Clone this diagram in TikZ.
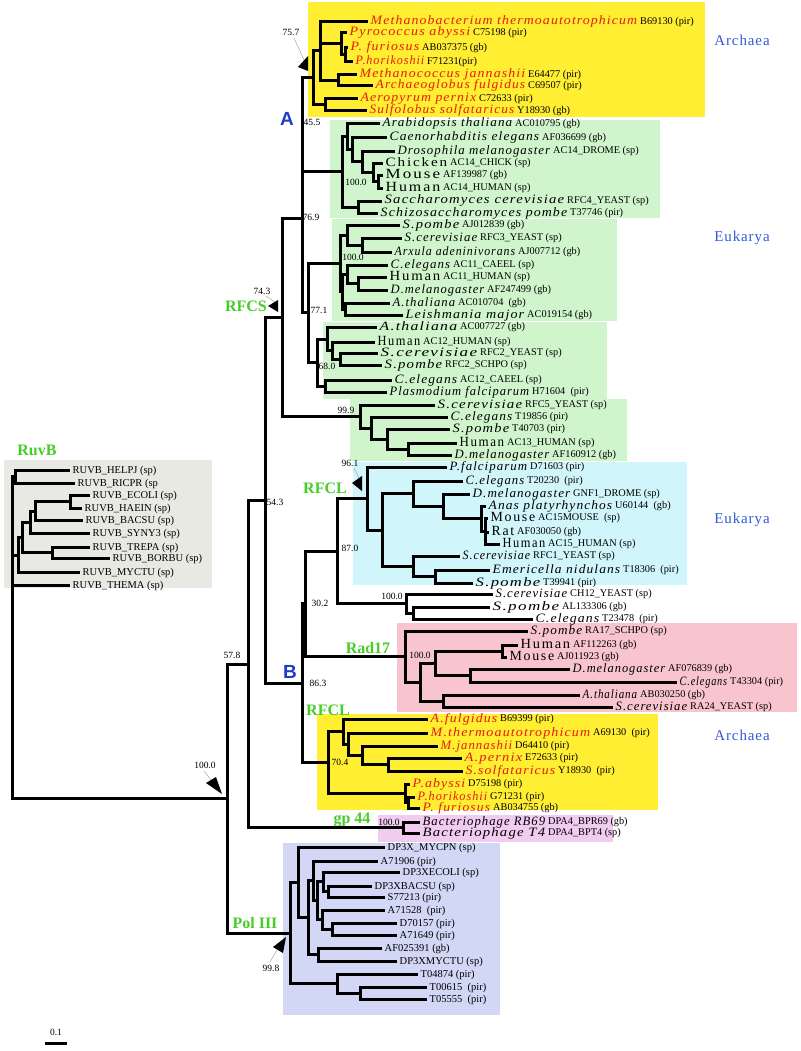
\documentclass[tikz,border=0pt]{standalone}
\usepackage{graphicx}
\usepackage{fontspec}
\setmainfont{Liberation Serif}
\newfontfamily\spf[LetterSpace=8]{Liberation Serif}
\newfontfamily\upf[LetterSpace=12]{Liberation Serif}
\newfontfamily\accf{Liberation Serif}
\newfontfamily\sansf{Liberation Sans}
\newfontfamily\regf[LetterSpace=6]{Liberation Serif}
\definecolor{archred}{RGB}{232,28,12}
\definecolor{grn}{RGB}{70,205,40}
\definecolor{blu}{RGB}{30,60,200}
\definecolor{blu2}{RGB}{50,90,215}
\definecolor{yel}{RGB}{255,238,50}
\definecolor{lgreen}{RGB}{208,245,204}
\definecolor{lcyan}{RGB}{208,245,250}
\definecolor{lpink}{RGB}{248,196,206}
\definecolor{lmag}{RGB}{242,204,240}
\definecolor{lblue}{RGB}{210,215,246}
\definecolor{lgray}{RGB}{233,233,228}
\newcommand\mySp[1]{{\spf\itshape\fontsize{12.8}{14}\selectfont #1}}
\newcommand\myRed[1]{\textcolor{archred}{\mySp{#1}}}
\newcommand\myUp[1]{{\upf\fontsize{14}{15}\selectfont #1}}
\newcommand\myUpS[1]{{\upf\fontsize{12.8}{14}\selectfont #1}}
\newcommand\myLab[1]{{\accf\fontsize{10.5}{11}\selectfont #1}}
\newlength\natw
\newcommand\fitw[2]{\settowidth{\natw}{#2}\pgfmathsetmacro\myrat{(#1)/\natw}\scalebox{\myrat}[1]{#2}}
% id, tip x, y, name, accession x, accession
\newcommand\leaf[6]{\coordinate (#1) at (#2,#3);
 \node[leaflab] (#1t) at (#1) {\fitw{#5-#2-5.5}{#4}};
 \node[acclab] (#1a) at (#5,#3) {#6};}
\newcommand\leafb[4]{\coordinate (#1) at (#2,#3); \node[leaflab] (#1t) at (#1) {\myLab{#4}};}
\newcommand\edges[2]{\foreach \c in {#2} {\draw[br] (#1) |- (\c);}}
\tikzset{
 br/.style={line width=3pt, line join=miter},
 leaflab/.style={anchor=west, inner sep=0pt, xshift=2.5pt, text height=7pt, text depth=1pt},
 acclab/.style={anchor=west, inner sep=0pt, text height=6pt, text depth=0pt, yshift=0.5pt, font=\accf\fontsize{10.3}{11}\selectfont},
 boot/.style={inner sep=0pt, font=\accf\fontsize{9.5}{10}\selectfont},
 glab/.style={inner sep=0pt, text=grn, font=\bfseries\fontsize{16}{17}\selectfont},
 blab/.style={inner sep=0pt, text=blu, font=\sansf\bfseries\fontsize{19}{20}\selectfont},
 dlab/.style={inner sep=0pt, text=blu2, font=\regf\fontsize{15}{16}\selectfont},
 ptr/.style={draw=gray!70, line width=0.5pt},
 tri/.style={fill=black},
}
\begin{document}
\begin{tikzpicture}[x=1pt,y=-1pt]
\useasboundingbox (0,0) rectangle (800,1051);
% ---------- coloured boxes ----------
\fill[yel] (308,2) rectangle (705,117);
\fill[lgreen] (330,120) rectangle (660,218);
\fill[lgreen] (332,219) rectangle (617,321);
\fill[lgreen] (323,322) rectangle (607,399);
\fill[lgreen] (350,399) rectangle (627,461);
\fill[lcyan] (353,462) rectangle (687,585);
\fill[lpink] (397,623) rectangle (797,712);
\fill[yel] (317,714) rectangle (658,810);
\fill[lmag] (378,815) rectangle (613,842);
\fill[lblue] (283,843) rectangle (500,1015);
\fill[lgray] (4,460) rectangle (212,588);

% ---------- top archaea ----------
\leaf{Lmb}{368}{22}{\myRed{Methanobacterium thermoautotrophicum}}{640}{B69130 (pir)}
\leaf{Lpa}{347}{33}{\myRed{Pyrococcus abyssi}}{473}{C75198 (pir)}
\leaf{Lpf}{348}{48}{\myRed{P. furiosus}}{422}{AB037375 (gb)}
\leaf{Lph}{353}{62}{\myRed{P.horikoshii}}{427}{F71231(pir)}
\leaf{Lmj}{357}{75}{\myRed{Methanococcus jannashii}}{528}{E64477 (pir)}
\leaf{Laf}{373}{86}{\myRed{Archaeoglobus fulgidus}}{528}{C69507 (pir)}
\leaf{Lap}{358}{99}{\myRed{Aeropyrum pernix}}{479}{C72633 (pir)}
\leaf{Lss}{367}{111}{\myRed{Sulfolobus solfataricus}}{517}{Y18930 (gb)}
\coordinate (npf) at (345,55);
\coordinate (npyro) at (341,44);
\coordinate (nmjaf) at (338,80.5);
\coordinate (nA1) at (320,51);
\coordinate (napss) at (325,105);
\coordinate (narch) at (313,78);
\edges{npf}{Lpf,Lph}
\edges{npyro}{Lpa,npf}
\edges{nmjaf}{Lmj,Laf}
\edges{nA1}{Lmb,npyro,nmjaf}
\edges{napss}{Lap,Lss}
\edges{narch}{nA1,napss}

% ---------- eukarya group 1 ----------
\leaf{Lat1}{380}{124}{\mySp{Arabidopsis thaliana}}{515}{AC010795 (gb)}
\leaf{Lce1}{387}{138}{\mySp{Caenorhabditis elegans}}{542}{AF036699 (gb)}
\leaf{Ldm1}{395}{151.5}{\mySp{Drosophila melanogaster}}{553}{AC14\_DROME (sp)}
\leaf{Lch}{383}{163.5}{\myUpS{Chicken}}{450}{AC14\_CHICK (sp)}
\leaf{Lmo1}{383}{175.5}{\myUp{Mouse}}{443}{AF139987 (gb)}
\leaf{Lhu1}{383}{188}{\myUp{Human}}{443}{AC14\_HUMAN (sp)}
\leaf{Lsc1}{382}{201}{\mySp{Saccharomyces cerevisiae}}{567}{RFC4\_YEAST (sp)}
\leaf{Lsp1}{378}{213}{\mySp{Schizosaccharomyces pombe}}{570}{T37746 (pir)}
\coordinate (nmh1) at (378,181.75);
\coordinate (nchmh) at (373,172.5);
\coordinate (ndro) at (362,162);
\coordinate (nce) at (352,150);
\coordinate (nat1) at (347,137);
\coordinate (nsc1) at (358,207);
\coordinate (ng1) at (342,172);
\edges{nmh1}{Lmo1,Lhu1}
\edges{nchmh}{Lch,nmh1}
\edges{ndro}{Ldm1,nchmh}
\edges{nce}{Lce1,ndro}
\edges{nat1}{Lat1,nce}
\edges{nsc1}{Lsc1,Lsp1}
\edges{ng1}{nat1,nsc1}
\node[boot] (b1000a) at (356,182) {100.0};

% ---------- eukarya group 2 ----------
\leaf{Lsp2}{400}{225}{\mySp{S.pombe}}{462}{AJ012839 (gb)}
\leaf{Lsc2}{402}{238}{\mySp{S.cerevisiae}}{480}{RFC3\_YEAST (sp)}
\leaf{Lax}{392}{252}{\mySp{Arxula adeninivorans}}{518}{AJ007712 (gb)}
\leaf{Lce2}{388}{265}{\mySp{C.elegans}}{453}{AC11\_CAEEL (sp)}
\leaf{Lhu2}{387}{277}{\myUp{Human}}{443}{AC11\_HUMAN (sp)}
\leaf{Ldm2}{388}{290}{\mySp{D.melanogaster}}{487}{AF247499 (gb)}
\leaf{Lat2}{390}{303}{\mySp{A.thaliana}}{458}{AC010704 \ (gb)}
\leaf{Llm}{403}{315}{\mySp{Leishmania major}}{527}{AC019154 (gb)}
\coordinate (nscax) at (362,245);
\coordinate (nspsc) at (347,235);
\coordinate (nhd2) at (358,283.5);
\coordinate (nchd) at (347,274);
\coordinate (nal) at (345,309);
\coordinate (nx) at (342,291.5);
\coordinate (ng2) at (340,263);
\edges{nscax}{Lsc2,Lax}
\edges{nspsc}{Lsp2,nscax}
\edges{nhd2}{Lhu2,Ldm2}
\edges{nchd}{Lce2,nhd2}
\edges{nal}{Lat2,Llm}
\edges{nx}{nchd,nal}
\edges{ng2}{nspsc,nx}
\node[boot] (b1000b) at (353,257) {100.0};

% ---------- eukarya group 3 ----------
\leaf{Lat3}{377}{327}{\mySp{A.thaliana}}{460}{AC007727 (gb)}
\leaf{Lhu3}{375}{342}{\myUp{Human}}{423}{AC12\_HUMAN (sp)}
\leaf{Lsc3}{378}{353}{\mySp{S.cerevisiae}}{480}{RFC2\_YEAST (sp)}
\leaf{Lsp3}{382}{365}{\mySp{S.pombe}}{445}{RFC2\_SCHPO (sp)}
\leaf{Lce3}{392}{380}{\mySp{C.elegans}}{460}{AC12\_CAEEL (sp)}
\leaf{Lpf3}{387}{392}{\mySp{Plasmodium falciparum}}{532}{H71604 \ (pir)}
\coordinate (nscsp3) at (340,359);
\coordinate (nhss) at (332,350.5);
\coordinate (nah) at (327,339);
\coordinate (ncp) at (325,386);
\coordinate (ng3) at (317,362.5);
\edges{nscsp3}{Lsc3,Lsp3}
\edges{nhss}{Lhu3,nscsp3}
\edges{nah}{Lat3,nhss}
\edges{ncp}{Lce3,Lpf3}
\edges{ng3}{nah,ncp}
\node[boot] (b680) at (327,366) {68.0};
\coordinate (n77) at (308,312.5);
\edges{n77}{ng2,ng3}
\node[boot] (b771) at (319,310) {77.1};

% ---------- 99.9 group ----------
\leaf{Lsc5}{435}{405}{\mySp{S.cerevisiae}}{525}{RFC5\_YEAST (sp)}
\leaf{Lce5}{448}{417}{\mySp{C.elegans}}{515}{T19856 (pir)}
\leaf{Lsp5}{450}{429}{\mySp{S.pombe}}{512}{T40703 (pir)}
\leaf{Lhu5}{457}{443}{\myUp{Human}}{507}{AC13\_HUMAN (sp)}
\leaf{Ldm5}{452}{455}{\mySp{D.melanogaster}}{552}{AF160912 (gb)}
\coordinate (nhd5) at (408,449);
\coordinate (nsp5) at (387,439);
\coordinate (nce5) at (371,428);
\coordinate (n99) at (360,416.5);
\edges{nhd5}{Lhu5,Ldm5}
\edges{nsp5}{Lsp5,nhd5}
\edges{nce5}{Lce5,nsp5}
\edges{n99}{Lsc5,nce5}
\node[boot] (b999) at (346,410) {99.9};

% ---------- RFCS backbone ----------
\coordinate (n45) at (302,125);
\coordinate (n769) at (302,218.75);
\coordinate (nrfcs) at (282,317.6);
\edges{n45}{narch,ng1}
\edges{n769}{n45,n77}
\edges{nrfcs}{n769,n99}
\node[boot] (b757) at (291,32) {75.7};
\node[boot] (b455) at (312,122) {45.5};
\node[boot] (b769) at (311,217) {76.9};
\node[boot] (b743) at (262,291) {74.3};
\node[blab] (labA) at (287,119) {A};
\node[glab, anchor=east] (labRFCS) at (267,306) {RFCS};

% ---------- RFCL eukarya ----------
\leaf{Lpf2}{447}{467}{\mySp{P.falciparum}}{530}{D71603 (pir)}
\leaf{Lce6}{463}{481}{\mySp{C.elegans}}{527}{T20230 \ (pir)}
\leaf{Ldm6}{470}{494}{\mySp{D.melanogaster}}{573}{GNF1\_DROME (sp)}
\leaf{Lan}{486}{506}{\mySp{Anas platyrhynchos}}{615}{U60144 \ (gb)}
\leaf{Lmo6}{488}{518}{\myUp{Mouse}}{538}{AC15MOUSE \ (sp)}
\leaf{Lrat}{489}{532}{\myUp{Rat}}{517}{AF030050 (gb)}
\leaf{Lhu6}{500}{544}{\myUp{Human}}{548}{AC15\_HUMAN (sp)}
\leaf{Lsc6}{460}{556}{\mySp{S.cerevisiae}}{533}{RFC1\_YEAST (sp)}
\leaf{Len}{490}{570}{\mySp{Emericella nidulans}}{623}{T18306 \ (pir)}
\leaf{Lsp6}{473}{583}{\mySp{S.pombe}}{543}{T39941 (pir)}
\coordinate (nmrh) at (485,531);
\coordinate (namrh) at (481,518.5);
\coordinate (ndm6) at (443,506);
\coordinate (ntop6) at (413,493.5);
\coordinate (nesp) at (435,576.5);
\coordinate (nbot6) at (413,566);
\coordinate (nrest6) at (382,530);
\coordinate (n96) at (367,498.5);
\edges{nmrh}{Lmo6,Lrat,Lhu6}
\edges{namrh}{Lan,nmrh}
\edges{ndm6}{Ldm6,namrh}
\edges{ntop6}{Lce6,ndm6}
\edges{nesp}{Len,Lsp6}
\edges{nbot6}{Lsc6,nesp}
\edges{nrest6}{ntop6,nbot6}
\edges{n96}{Lpf2,nrest6}
\node[boot] (b961) at (350,463) {96.1};
\node[glab] (labRFCL1) at (325,488) {RFCL};

% ---------- CH12 ----------
\leaf{Lsc7}{493}{594}{\mySp{S.cerevisiae}}{570}{CH12\_YEAST (sp)}
\leaf{Lsp7}{490}{607}{\mySp{S.pombe}}{562}{AL133306 (gb)}
\leaf{Lce7}{533}{619}{\mySp{C.elegans}}{602}{T23478 \ (pir)}
\coordinate (nspce7) at (413,613);
\coordinate (nch12) at (406,603.5);
\edges{nspce7}{Lsp7,Lce7}
\edges{nch12}{Lsc7,nspce7}
\node[boot] (b1000c) at (392,596) {100.0};
\coordinate (n87) at (337,551);
\edges{n87}{n96,nch12}
\node[boot] (b870) at (350,548) {87.0};

% ---------- Rad17 ----------
\leaf{Lsp8}{528}{631}{\mySp{S.pombe}}{585}{RA17\_SCHPO (sp)}
\leaf{Lhu8}{518}{645}{\myUp{Human}}{573}{AF112263 (gb)}
\leaf{Lmo8}{507}{657}{\myUp{Mouse}}{557}{AJ011923 (gb)}
\leaf{Ldm8}{570}{669}{\mySp{D.melanogaster}}{668}{AF076839 (gb)}
\leaf{Lce8}{677}{682}{\mySp{C.elegans}}{730}{T43304 (pir)}
\leaf{Lat8}{580}{695}{\mySp{A.thaliana}}{640}{AB030250 (gb)}
\leaf{Lsc8}{613}{707}{\mySp{S.cerevisiae}}{690}{RA24\_YEAST (sp)}
\coordinate (nhm8) at (502,651);
\coordinate (ndc8) at (470,675.5);
\coordinate (nhmdc) at (435,663);
\coordinate (nats8) at (443,701);
\coordinate (nr2) at (420,682);
\coordinate (nrad) at (405,656.5);
\edges{nhm8}{Lhu8,Lmo8}
\edges{ndc8}{Ldm8,Lce8}
\edges{nhmdc}{nhm8,ndc8}
\edges{nats8}{Lat8,Lsc8}
\edges{nr2}{nhmdc,nats8}
\edges{nrad}{Lsp8,nr2}
\node[boot] (b1000d) at (420,655) {100.0};
\node[glab] (labRad) at (368,648) {Rad17};
\coordinate (n30) at (305,603.5);
\edges{n30}{n87,nrad}
\node[boot] (b302) at (320,603) {30.2};

% ---------- bottom archaea ----------
\leaf{Laf2}{428}{719}{\myRed{A.fulgidus}}{500}{B69399 (pir)}
\leaf{Lmt2}{428}{733}{\myRed{M.thermoautotrophicum}}{593}{A69130 \ (pir)}
\leaf{Lmj2}{438}{746}{\myRed{M.jannashii}}{515}{D64410 (pir)}
\leaf{Lap2}{462}{758}{\myRed{A.pernix}}{525}{E72633 (pir)}
\leaf{Lss2}{463}{771}{\myRed{S.solfataricus}}{558}{Y18930 \ (pir)}
\leaf{Lpa2}{410}{784}{\myRed{P.abyssi}}{468}{D75198 (pir)}
\leaf{Lph2}{415}{797}{\myRed{P.horikoshii}}{490}{G71231 (pir)}
\leaf{Lpu2}{420}{808}{\myRed{P. furiosus}}{493}{AB034755 (gb)}
\coordinate (nas2) at (388,764.5);
\coordinate (nmjas) at (362,755);
\coordinate (nmt2) at (348,744);
\coordinate (naf2) at (343,731.5);
\coordinate (nphf) at (408,802.5);
\coordinate (npyro2) at (405,793);
\coordinate (n70) at (328,762);
\edges{nas2}{Lap2,Lss2}
\edges{nmjas}{Lmj2,nas2}
\edges{nmt2}{Lmt2,nmjas}
\edges{naf2}{Laf2,nmt2}
\edges{nphf}{Lph2,Lpu2}
\edges{npyro2}{Lpa2,nphf}
\edges{n70}{naf2,npyro2}
\node[boot] (b704) at (340,762) {70.4};
\node[glab] (labRFCL2) at (328,710) {RFCL};
\coordinate (n86) at (302,683);
\edges{n86}{n30,n70}
\node[boot] (b863) at (318,683) {86.3};
\node[blab] (labB) at (290,672) {B};
\coordinate (n54) at (265,500);
\edges{n54}{nrfcs,n86}
\node[boot] (b543) at (275,502) {54.3};

% ---------- gp44 ----------
\leaf{Lrb}{420}{822}{\mySp{Bacteriophage RB69}}{548}{DPA4\_BPR69 (gb)}
\leaf{Lt4}{420}{833}{\mySp{Bacteriophage T4}}{548}{DPA4\_BPT4 (sp)}
\coordinate (ngp) at (403,827.5);
\edges{ngp}{Lrb,Lt4}
\node[boot] (b1000e) at (389,822) {100.0};
\node[glab] (labgp) at (352,820) {gp 44};
\coordinate (n57) at (248,664);
\edges{n57}{n54,ngp}
\node[boot] (b578) at (232,655) {57.8};

% ---------- Pol III ----------
\leafb{Lx1}{385}{847}{DP3X\_MYCPN (sp)}
\leafb{Lx2}{378}{861}{A71906 (pir)}
\leafb{Lx3}{400}{872}{DP3XECOLI (sp)}
\leafb{Lx4}{372}{886}{DP3XBACSU (sp)}
\leafb{Lx5}{385}{897}{S77213 (pir)}
\leafb{Lx6}{385}{910}{A71528 \ (pir)}
\leafb{Lx7}{397}{923}{D70157 (pir)}
\leafb{Lx8}{397}{935}{A71649 (pir)}
\leafb{Lx9}{382}{948}{AF025391 (gb)}
\leafb{Lx10}{397}{961}{DP3XMYCTU (sp)}
\leafb{Lx11}{418}{974}{T04874 (pir)}
\leafb{Lx12}{427}{987}{T00615 \ (pir)}
\leafb{Lx13}{427}{999}{T05555 \ (pir)}
\coordinate (nbs) at (328,891.5);
\coordinate (nebs) at (323,881.75);
\coordinate (ndmp) at (332,929);
\coordinate (nadm) at (322,919.5);
\coordinate (nxa) at (317,900.6);
\coordinate (nxb) at (313,880.8);
\coordinate (nmyc) at (318,954.5);
\coordinate (nxc) at (308,917.6);
\coordinate (nxd) at (298,882.3);
\coordinate (nt0) at (360,993);
\coordinate (nt) at (337,983.5);
\coordinate (npol) at (290,933);
\edges{nbs}{Lx4,Lx5}
\edges{nebs}{Lx3,nbs}
\edges{ndmp}{Lx7,Lx8}
\edges{nadm}{Lx6,ndmp}
\edges{nxa}{nebs,nadm}
\edges{nxb}{Lx2,nxa}
\edges{nmyc}{Lx9,Lx10}
\edges{nxc}{nxb,nmyc}
\edges{nxd}{Lx1,nxc}
\edges{nt0}{Lx12,Lx13}
\edges{nt}{Lx11,nt0}
\edges{npol}{nxd,nt}
\node[glab] (labPol) at (255,923) {Pol III};
\node[boot] (b998) at (271,968) {99.8};
\coordinate (n100) at (227,798.5);
\edges{n100}{n57,npol}
\node[boot] (b1000f) at (205,765) {100.0};

% ---------- RuvB ----------
\leafb{Lr1}{70}{470}{RUVB\_HELPJ (sp)}
\leafb{Lr2}{75}{483}{RUVB\_RICPR (sp}
\leafb{Lr3}{90}{495}{RUVB\_ECOLI (sp)}
\leafb{Lr4}{82}{508}{RUVB\_HAEIN (sp)}
\leafb{Lr5}{83}{520}{RUVB\_BACSU (sp)}
\leafb{Lr6}{90}{533}{RUVB\_SYNY3 (sp)}
\leafb{Lr7}{90}{547}{RUVB\_TREPA (sp)}
\leafb{Lr8}{110}{558}{RUVB\_BORBU (sp)}
\leafb{Lr9}{80}{572}{RUVB\_MYCTU (sp)}
\leafb{Lr10}{70}{585}{RUVB\_THEMA (sp)}
\coordinate (nhr) at (15,476.5);
\coordinate (neh) at (70,501.5);
\coordinate (nehb) at (35,511);
\coordinate (nehbs) at (30,522);
\coordinate (ntb) at (52,552.5);
\coordinate (ny) at (22,537);
\coordinate (nz) at (18,555);
\coordinate (nruv) at (12,531);
\coordinate (root) at (12,664);
\edges{nhr}{Lr1,Lr2}
\edges{neh}{Lr3,Lr4}
\edges{nehb}{neh,Lr5}
\edges{nehbs}{nehb,Lr6}
\edges{ntb}{Lr7,Lr8}
\edges{ny}{nehbs,ntb}
\edges{nz}{ny,Lr9}
\edges{nruv}{nhr,nz,Lr10}
\edges{root}{nruv,n100}
\node[glab] (labRuv) at (37,450) {RuvB};

% ---------- bootstrap pointers ----------
\coordinate (p1a) at (294,38); \coordinate (p1b) at (304,60);
\draw[ptr] (p1a) -- (p1b);
\coordinate (t1a) at (298,67); \coordinate (t1b) at (308,56); \coordinate (t1c) at (308,71);
\fill[tri] (t1a) -- (t1b) -- (t1c) -- cycle;
\coordinate (p2a) at (266,296); \coordinate (p2b) at (275,302);
\draw[ptr] (p2a) -- (p2b);
\coordinate (t2a) at (268,306); \coordinate (t2b) at (278,300); \coordinate (t2c) at (278,312);
\fill[tri] (t2a) -- (t2b) -- (t2c) -- cycle;
\coordinate (p3a) at (354,468); \coordinate (p3b) at (359,478);
\draw[ptr] (p3a) -- (p3b);
\coordinate (t3a) at (352,483); \coordinate (t3b) at (362,476); \coordinate (t3c) at (362,491);
\fill[tri] (t3a) -- (t3b) -- (t3c) -- cycle;
\coordinate (p4a) at (204,771); \coordinate (p4b) at (211,780);
\draw[ptr] (p4a) -- (p4b);
\coordinate (t4a) at (222,794); \coordinate (t4b) at (206,783); \coordinate (t4c) at (216,777);
\fill[tri] (t4a) -- (t4b) -- (t4c) -- cycle;
\coordinate (p5a) at (270,962); \coordinate (p5b) at (277,950);
\draw[ptr] (p5a) -- (p5b);
\coordinate (t5a) at (286,937); \coordinate (t5b) at (283,953); \coordinate (t5c) at (273,947);
\fill[tri] (t5a) -- (t5b) -- (t5c) -- cycle;

% ---------- domain labels ----------
\node[dlab] (dArch1) at (742,40) {Archaea};
\node[dlab] (dEuk1) at (742,238) {Eukarya};
\node[dlab] (dEuk2) at (742,520) {Eukarya};
\node[dlab] (dArch2) at (742,735) {Archaea};

% ---------- scale bar ----------
\coordinate (sb1) at (45,1043); \coordinate (sb2) at (67,1043);
\draw[line width=3pt] (sb1) -- (sb2);
\node[boot] (sbl) at (56,1032) {0.1};
\end{tikzpicture}
\end{document}
